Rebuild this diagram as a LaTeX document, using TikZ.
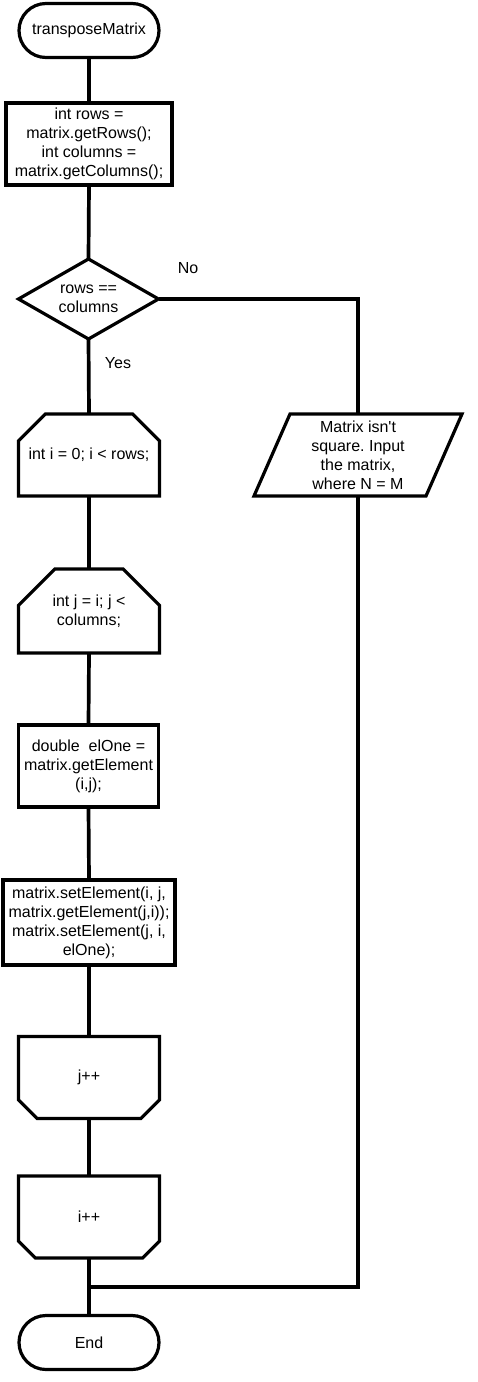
\documentclass[tikz,border=0pt]{standalone}
\usepackage{fontspec}
\setmainfont{Liberation Sans}[Ligatures=TeXOff]
\usetikzlibrary{shapes.geometric,shapes.misc,calc}
\frenchspacing
\begin{document}
\begin{tikzpicture}[x=1pt,y=-1pt,
  every node/.style={font=\fontsize{16}{19}\selectfont, align=center, inner sep=0pt, outer sep=0pt},
  shp/.style={draw=black, line width=3.2pt, fill=white},
  term/.style={shp, rounded rectangle, minimum width=140pt, minimum height=54pt},
  proc/.style={shp, rectangle, minimum width=#1, minimum height=82pt},
  proc/.default=140pt,
  decision/.style={shp, diamond, shape aspect=1.75, minimum width=140pt, minimum height=80pt},
  loopstart/.style={shp, chamfered rectangle, chamfered rectangle corners={north west,north east},
    chamfered rectangle xsep=23pt, chamfered rectangle ysep=20pt, minimum width=141pt, minimum height=82pt},
  loopend/.style={shp, chamfered rectangle, chamfered rectangle corners={south west,south east},
    chamfered rectangle xsep=23pt, chamfered rectangle ysep=20pt, minimum width=141pt, minimum height=82pt},
  conn/.style={line width=3.7pt},
  lbl/.style={font=\fontsize{16}{19}\selectfont}
]
\useasboundingbox (0,0) rectangle (477,1382);
\fill[white] (0,0) rectangle (477,1382);

\coordinate (m) at (89,1287);

\node[term] (start) at (89,30.5) {transposeMatrix};
\node[proc=166pt] (b1) at (89,144) {int rows =\\matrix.getRows();\\int columns =\\matrix.getColumns();};
\node[decision] (dec) at (88.5,299) {rows ==\\columns};
\node[loopstart] (l1) at (89,455) {int i = 0; i < rows;};
\node[minimum width=172pt, minimum height=82pt] (par) at (358,455) {Matrix isn't\\square. Input\\the matrix,\\where N = M};
\node[loopstart, minimum height=84pt] (l2) at (89,611) {int j = i; j <\\columns;};
\node[proc] (e1) at (88.5,766) {double\ \ elOne =\\matrix.getElement\\(i,j);};
\node[proc=172pt, minimum height=85pt] (s) at (89,922.5) {matrix.setElement(i, j,\\matrix.getElement(j,i));\\matrix.setElement(j, i,\\elOne);};
\node[loopend] (jj) at (89,1077.5) {j++};
\node[loopend] (ii) at (89,1217) {i++};
\node[term] (end) at (89,1342.5) {End};

\draw[conn] (start.south) -- (b1.north);
\draw[conn] (b1.south) -- (dec.north);
\draw[conn] (dec.south) -- (l1.north);
\draw[conn] (dec.east) -| (par.north);
\draw[conn] (l1.south) -- (l2.north);
\draw[conn] (l2.south) -- (e1.north);
\draw[conn] (e1.south) -- (s.north);
\draw[conn] (s.south) -- (jj.north);
\draw[conn] (jj.south) -- (ii.north);
\draw[conn] (ii.south) -- (end.north);
\draw[conn] (par.south) |- (m);

% parallelogram outline around par
\draw[shp, fill=none] ($(par.north west)+(18,0)$) -- ($(par.north east)+(18,0)$)
  -- ($(par.south east)+(-18,0)$) -- ($(par.south west)+(-18,0)$) -- cycle;

\node[lbl] (no) at (188,268) {No};
\node[lbl] (yes) at (118,363) {Yes};
\end{tikzpicture}
\end{document}
